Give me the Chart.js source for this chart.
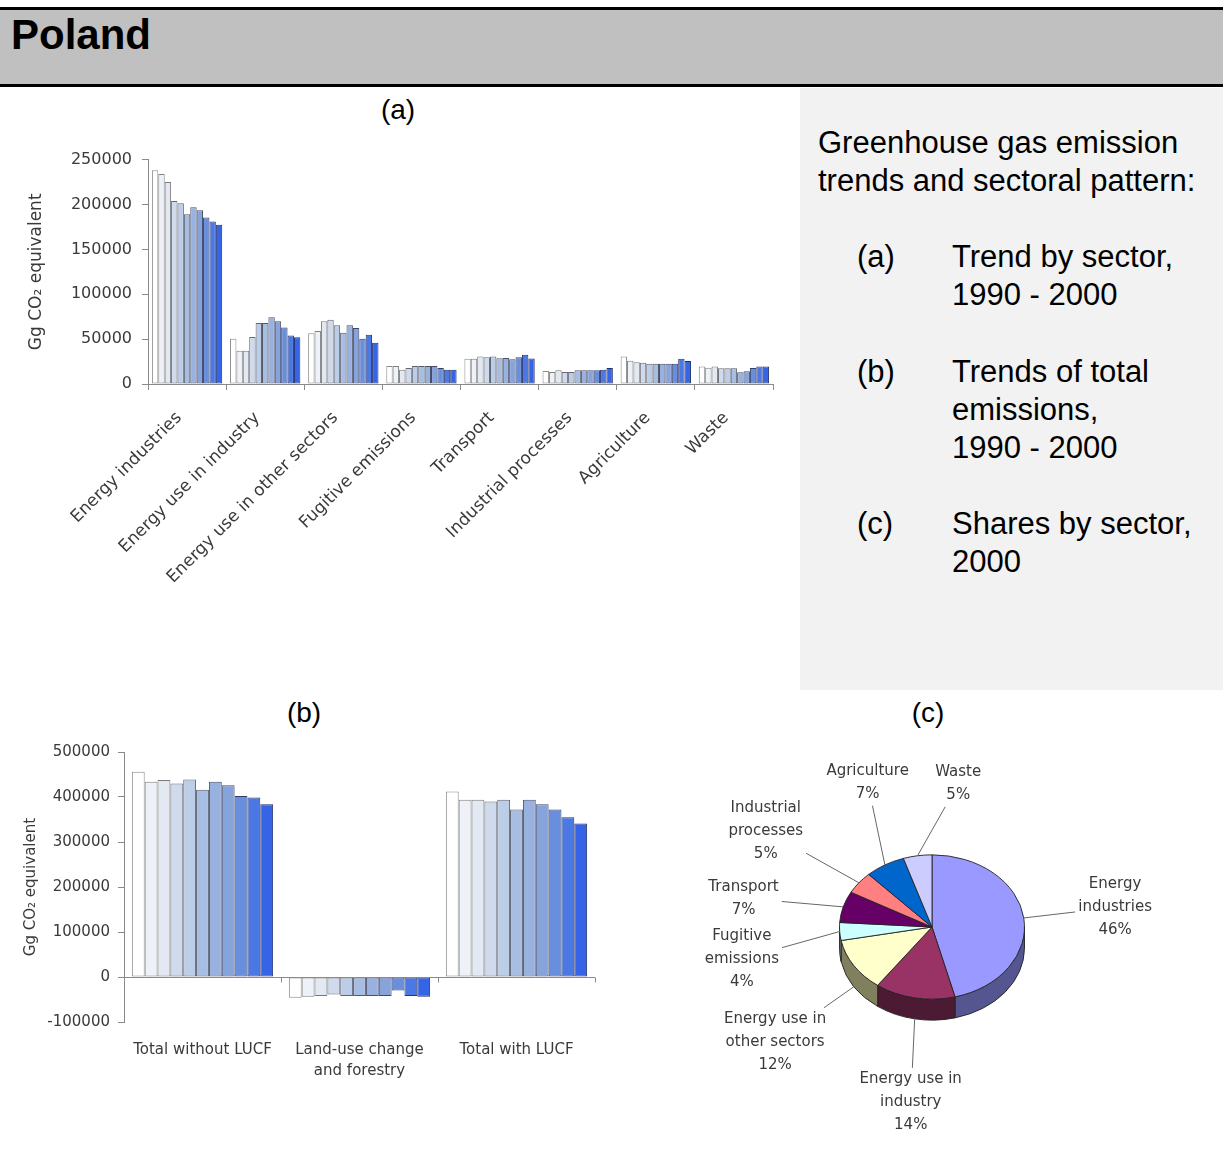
<!DOCTYPE html>
<html>
<head>
<meta charset="utf-8">
<script src="https://cdn.jsdelivr.net/npm/chart.js@4.4.1/dist/chart.umd.min.js"></script>
<style>
  body { margin: 0; width: 1223px; height: 1175px; background: #fff; position: relative; overflow: hidden;
         font-family: "Liberation Sans", Arial, sans-serif; color: #000; }
  .hdr { position: absolute; left: 0; top: 7px; width: 1223px; height: 80px; box-sizing: border-box;
         background: #c0c0c0; border-top: 3px solid #000; border-bottom: 3px solid #000; }
  .title { position: absolute; left: 11px; top: 14px; font-size: 42px; line-height: 42px; font-weight: bold; }
  .side { position: absolute; left: 800px; top: 88px; width: 423px; height: 602px; background: #f2f2f2; }
  .txt { position: absolute; font-size: 31px; line-height: 38px; white-space: nowrap; }
  .cap { position: absolute; width: 100px; text-align: center; font-size: 28px; line-height: 28px; }
  canvas { position: absolute; }
</style>
</head>
<body>
<div class="hdr"></div>
<div class="title">Poland</div>
<div class="side"></div>
<div class="txt" style="left:818px;top:124px">Greenhouse gas emission<br>trends and sectoral pattern:</div>
<div class="txt" style="left:857px;top:238px">(a)</div>
<div class="txt" style="left:952px;top:238px">Trend by sector,<br>1990 - 2000</div>
<div class="txt" style="left:857px;top:353px">(b)</div>
<div class="txt" style="left:952px;top:353px">Trends of total<br>emissions,<br>1990 - 2000</div>
<div class="txt" style="left:857px;top:505px">(c)</div>
<div class="txt" style="left:952px;top:505px">Shares by sector,<br>2000</div>
<div class="cap" style="left:348px;top:96px">(a)</div>
<div class="cap" style="left:254px;top:699px">(b)</div>
<div class="cap" style="left:878px;top:699px">(c)</div>

<canvas id="trendChart" width="790" height="460" style="left:0;top:140px"></canvas>
<canvas id="totalChart" width="620" height="360" style="left:0;top:735px"></canvas>
<canvas id="shareChart" width="533" height="400" style="left:690px;top:740px"></canvas>

<script>
// ---- data (Gg CO2 equivalent) ----
const years = ['1990', '1991', '1992', '1993', '1994', '1995', '1996', '1997', '1998', '1999', '2000'];

const sectors = ['Energy industries', 'Energy use in industry', 'Energy use in other sectors',
                 'Fugitive emissions', 'Transport', 'Industrial processes', 'Agriculture', 'Waste'];
const energyIndustries    = [238000, 234000, 225000, 204000, 201500, 189000, 197000, 193500, 185500, 181000, 177500];
const energyUseIndustry   = [50500, 37000, 37000, 52500, 68000, 68000, 74500, 70000, 63000, 54000, 52000];
const energyUseOther      = [56500, 59000, 70000, 71500, 65500, 57000, 65500, 62500, 50500, 55000, 46000];
const fugitiveEmissions   = [20000, 20000, 16000, 17800, 20000, 20000, 20000, 20000, 17800, 16000, 16000];
const transport           = [28000, 28000, 30500, 29700, 30500, 28700, 29000, 27500, 29700, 32500, 28500];
const industrialProcesses = [14500, 13400, 15300, 13400, 13400, 15300, 15300, 15300, 15300, 16000, 17800];
const agriculture         = [30500, 26000, 24300, 23600, 22500, 22500, 22500, 22500, 22500, 28000, 25500];
const waste               = [19500, 18200, 19500, 17500, 17500, 17500, 13000, 14200, 17800, 19500, 19500];
const sectorTrends = [energyIndustries, energyUseIndustry, energyUseOther, fugitiveEmissions,
                      transport, industrialProcesses, agriculture, waste];
const trendTicks = { min: 0, max: 250000, step: 50000 };

const totalCategories = ['Total without LUCF', ['Land-use change', 'and forestry'], 'Total with LUCF'];
const totalWithoutLucf = [456000, 434000, 438000, 430000, 439000, 416000, 434000, 426000, 402000, 399000, 384000];
const lucf             = [-46000, -44000, -42000, -39000, -42000, -42000, -42000, -42000, -30000, -42000, -44000];
const totalWithLucf    = [412000, 394000, 394000, 390000, 394000, 372000, 394000, 384000, 372000, 355000, 341000];
const totalTicks = { min: -100000, max: 500000, step: 100000 };

const shareLabels = [['Energy', 'industries'], ['Energy use in', 'industry'], ['Energy use in', 'other sectors'],
                     ['Fugitive', 'emissions'], ['Transport'], ['Industrial', 'processes'], ['Agriculture'], ['Waste']];
const shares2000 = [46, 14, 12, 4, 7, 5, 7, 5];

// ---- styles ----
const YEAR_FILL = ['#ffffff', '#eef2f8', '#e3e9f3', '#cfdbec', '#bccde8', '#a7bde2',
                   '#99b1de', '#87a3db', '#6a8ede', '#4b78e2', '#3565e6'];
const YEAR_EDGE = ['#8a8a8a', '#7f7f7f', '#7a7a7a', '#6a6a72', '#60646e', '#555a68',
                   '#4a5068', '#404868', '#343f66', '#2a3566', '#203068'];
const PIE_TOP  = ['#9999ff', '#993366', '#ffffcc', '#ccffff', '#660066', '#ff8080', '#0066cc', '#ccccff'];
const PIE_SIDE = ['#55558f', '#4d1a33', '#80805f', '#708080', '#330033', '#804040', '#003366', '#66667f'];
// label nudges (px) for the pie call-outs, as Excel placed them
const PIE_NUDGE = [[7, 0], [12, 0], [-7, 10], [-13, 22], [-18, 15], [-26, 0], [26, -9], [54, 12]];
const INK = '#3a3a3a';
const AXIS = '#8a8a8a';

Chart.defaults.font.family = '"DejaVu Sans", Verdana, sans-serif';
Chart.defaults.color = INK;

const plain = v => String(v);

function yearDatasets(rows) {
    return years.map((yr, i) => ({
        label: yr,
        data: rows.map(r => r[i]),
        backgroundColor: YEAR_FILL[i],
        borderColor: YEAR_EDGE[i],
        borderWidth: 1,
        borderSkipped: false,
        categoryPercentage: 0.9,
        barPercentage: 1.0
    }));
}

// (a) trend by sector
new Chart(document.getElementById('trendChart'), {
    type: 'bar',
    data: { labels: sectors, datasets: yearDatasets(sectorTrends) },
    options: {
        responsive: false, animation: false,
        layout: { padding: { left: 26, right: 17, top: 15, bottom: 0 } },
        plugins: { legend: { display: false }, tooltip: { enabled: false } },
        scales: {
            x: {
                grid: { offset: true, drawOnChartArea: false, tickLength: 6, color: AXIS },
                border: { color: AXIS },
                ticks: { minRotation: 45, maxRotation: 45, padding: 18, labelOffset: -8, font: { size: 17 } },
                afterFit: s => { s.height = 216; }
            },
            y: {
                min: trendTicks.min, max: trendTicks.max,
                ticks: { stepSize: trendTicks.step, padding: 10, font: { size: 16 }, callback: plain },
                grid: { drawOnChartArea: false, tickLength: 6, color: AXIS },
                border: { color: AXIS },
                title: { display: true, text: 'Gg CO₂ equivalent', font: { size: 17 }, padding: 0 },
                afterFit: s => { s.width = 122; }
            }
        }
    }
});

// zero line with category ticks for chart (b)
const zeroAxis = {
    id: 'zeroAxis',
    afterDatasetsDraw(chart) {
        const { ctx, chartArea: a, scales: { y } } = chart;
        const y0 = Math.round(y.getPixelForValue(0)) + 0.5;
        const n = chart.data.labels.length;
        const w = (a.right - a.left) / n;
        ctx.save();
        ctx.strokeStyle = AXIS;
        ctx.lineWidth = 1;
        ctx.beginPath();
        ctx.moveTo(a.left, y0); ctx.lineTo(a.right, y0);
        for (let i = 0; i <= n; i++) {
            const px = Math.round(a.left + i * w) + 0.5;
            ctx.moveTo(px, y0); ctx.lineTo(px, y0 + 5);
        }
        ctx.stroke();
        ctx.restore();
    }
};

// (b) totals
new Chart(document.getElementById('totalChart'), {
    type: 'bar',
    data: { labels: totalCategories, datasets: yearDatasets([totalWithoutLucf, lucf, totalWithLucf]) },
    plugins: [zeroAxis],
    options: {
        responsive: false, animation: false,
        layout: { padding: { left: 22, right: 25, top: 15, bottom: 0 } },
        plugins: { legend: { display: false }, tooltip: { enabled: false } },
        scales: {
            x: {
                grid: { display: false },
                border: { display: false },
                ticks: { padding: 10, maxRotation: 0, font: { size: 15, lineHeight: 1.4 } },
                afterFit: s => { s.height = 73; }
            },
            y: {
                min: totalTicks.min, max: totalTicks.max,
                ticks: { stepSize: totalTicks.step, padding: 8, font: { size: 15 }, callback: plain },
                grid: { drawOnChartArea: false, tickLength: 6, color: AXIS },
                border: { color: AXIS },
                title: { display: true, text: 'Gg CO₂ equivalent', font: { size: 15 }, padding: 0 },
                afterFit: s => { s.width = 102; }
            }
        }
    }
});

// (c) tilted pie: squash vertically, add a side wall, then outside labels
const TILT = 0.78, DEPTH = 21;
const tiltedPie = {
    id: 'tiltedPie',
    beforeDatasetsDraw(chart) {
        const { ctx } = chart;
        const arcs = chart.getDatasetMeta(0).data;
        const { x: cx, y: cy } = arcs[0];
        ctx.save();
        ctx.translate(cx, cy); ctx.scale(1, TILT); ctx.translate(-cx, -cy);
        const d = DEPTH / TILT;
        arcs.forEach((arc, i) => {
            const r = arc.outerRadius;
            const a0 = Math.max(arc.startAngle, 0), a1 = Math.min(arc.endAngle, Math.PI);
            if (a1 <= a0) return;
            ctx.beginPath();
            ctx.moveTo(cx + r * Math.cos(a0), cy + r * Math.sin(a0));
            ctx.lineTo(cx + r * Math.cos(a0), cy + d + r * Math.sin(a0));
            ctx.arc(cx, cy + d, r, a0, a1, false);
            ctx.lineTo(cx + r * Math.cos(a1), cy + r * Math.sin(a1));
            ctx.arc(cx, cy, r, a1, a0, true);
            ctx.closePath();
            ctx.fillStyle = PIE_SIDE[i];
            ctx.fill();
            ctx.strokeStyle = '#222';
            ctx.lineWidth = 1;
            ctx.stroke();
        });
    },
    afterDatasetsDraw(chart) {
        const { ctx } = chart;
        ctx.restore();
        const arcs = chart.getDatasetMeta(0).data;
        const lh = 23, dist = 85;
        ctx.save();
        ctx.font = '15px "DejaVu Sans", Verdana, sans-serif';
        ctx.textAlign = 'center';
        ctx.textBaseline = 'middle';
        arcs.forEach((arc, i) => {
            const t = (arc.startAngle + arc.endAngle) / 2;
            const c = Math.cos(t), s = Math.sin(t);
            const ex = arc.x + arc.outerRadius * c;
            const ey = arc.y + arc.outerRadius * TILT * s + (s > 0.2 ? DEPTH : 0);
            const lx = ex + dist * c + PIE_NUDGE[i][0], ly = ey + dist * s + PIE_NUDGE[i][1];
            const lines = shareLabels[i].concat([shares2000[i] + '%']);
            const hw = Math.max(...lines.map(l => ctx.measureText(l).width)) / 2 + 3;
            const hh = lines.length * lh / 2;
            const dx = ex - lx, dy = ey - ly;
            const k = Math.min(Math.abs(dx) > 0 ? hw / Math.abs(dx) : Infinity, Math.abs(dy) > 0 ? hh / Math.abs(dy) : Infinity);
            if (k < 1) {
                ctx.strokeStyle = '#666';
                ctx.lineWidth = 1;
                ctx.beginPath();
                ctx.moveTo(ex, ey);
                ctx.lineTo(lx + dx * k, ly + dy * k);
                ctx.stroke();
            }
            ctx.fillStyle = INK;
            lines.forEach((l, j) => ctx.fillText(l, lx, ly + (j - (lines.length - 1) / 2) * lh));
        });
        ctx.restore();
    }
};

new Chart(document.getElementById('shareChart'), {
    type: 'pie',
    data: {
        labels: shareLabels.map(l => l.join(' ')),
        datasets: [{ data: shares2000, backgroundColor: PIE_TOP, borderColor: '#222', borderWidth: 1 }]
    },
    plugins: [tiltedPie],
    options: {
        responsive: false, animation: false,
        layout: { padding: { left: 149, right: 198, top: 94, bottom: 120 } },
        plugins: { legend: { display: false }, tooltip: { enabled: false } }
    }
});
</script>
</body>
</html>
